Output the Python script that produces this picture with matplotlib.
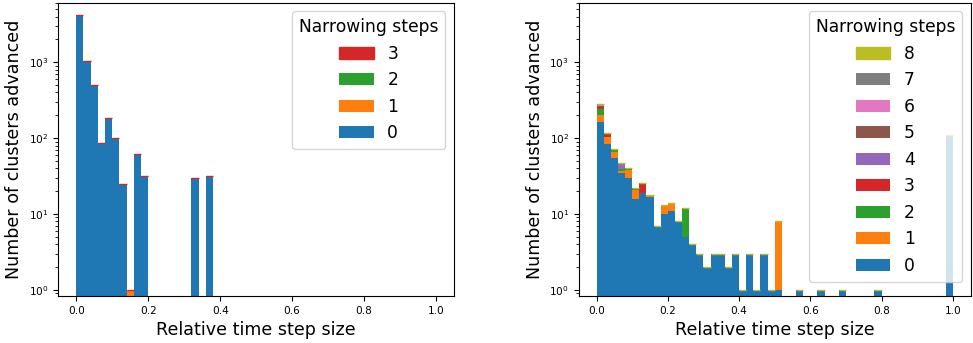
import numpy as np
from matplotlib import pyplot

# histogram bins over the relative time step size
bin_edges = np.linspace(0.0, 1.0, 51)
bin_centers = 0.5 * (bin_edges[:-1] + bin_edges[1:])


def counts(entries):
    # entries: {bin index: number of clusters}
    c = np.zeros(len(bin_centers))
    for i, n in entries.items():
        c[i] = n
    return c


# left run: clusters per bin, split by narrowing steps 0..3
left_steps = [0, 1, 2, 3]
left_counts = [
    counts({0: 4200, 1: 1040, 2: 505, 3: 87, 4: 182, 5: 102, 6: 25,
            8: 62, 9: 32, 16: 30, 18: 32}),
    counts({7: 1}),
    counts({}),
    counts({}),
]

# right run: clusters per bin, split by narrowing steps 0..8
right_steps = [0, 1, 2, 3, 4, 5, 6, 7, 8]
right_counts = [
    counts({0: 161, 1: 83, 2: 54, 3: 35, 4: 30, 5: 16, 6: 19, 7: 17, 8: 7,
            9: 10, 10: 11, 11: 8, 12: 5, 13: 4, 14: 3, 15: 2, 16: 3, 17: 3,
            18: 2, 19: 3, 20: 1, 21: 3, 22: 1, 23: 3, 24: 1, 25: 1, 28: 1,
            31: 1, 34: 1, 39: 1, 49: 111}),
    counts({0: 38, 1: 20, 2: 11, 3: 2, 4: 8, 5: 5, 7: 1, 9: 3, 10: 3, 25: 7}),
    counts({0: 41, 2: 7, 3: 2, 4: 3, 5: 1, 12: 7}),
    counts({0: 15, 1: 8, 6: 7}),
    counts({0: 6, 3: 8}),
    counts({0: 5, 1: 4}),
    counts({0: 6}),
    counts({0: 7, 1: 3}),
    counts({}),
]

FS = 12.6
LEG_FS = 12.3
TICK_FS = 7.6


def draw(ax, steps, step_counts):
    _, _, bars = ax.hist([bin_centers] * len(steps), bins=bin_edges,
                         weights=step_counts, stacked=True, log=True,
                         label=[str(s) for s in steps])
    # outline the last (empty) layer so each stack gets a thin cap
    top = bars[-1]
    for p in top:
        p.set_edgecolor(p.get_facecolor())
        p.set_linewidth(1.0)
    ax.set_xlim(-0.05, 1.05)
    ax.set_ylim(0.83, 6100)
    ax.set_xlabel("Relative time step size", fontsize=FS)
    ax.set_ylabel("Number of clusters advanced", fontsize=FS)
    ax.tick_params(labelsize=TICK_FS)
    handles, labels = ax.get_legend_handles_labels()
    ax.legend(handles[::-1], labels[::-1], title="Narrowing steps",
              loc="upper right", fontsize=LEG_FS, title_fontsize=LEG_FS)


fig = pyplot.figure(figsize=(9.73, 3.43), dpi=100)
ax1 = fig.add_axes([0.0599, 0.137, 0.4067, 0.855])
ax2 = fig.add_axes([0.5948, 0.137, 0.4028, 0.855])
draw(ax1, left_steps, left_counts)
draw(ax2, right_steps, right_counts)
fig.savefig("out.png", dpi=100)
